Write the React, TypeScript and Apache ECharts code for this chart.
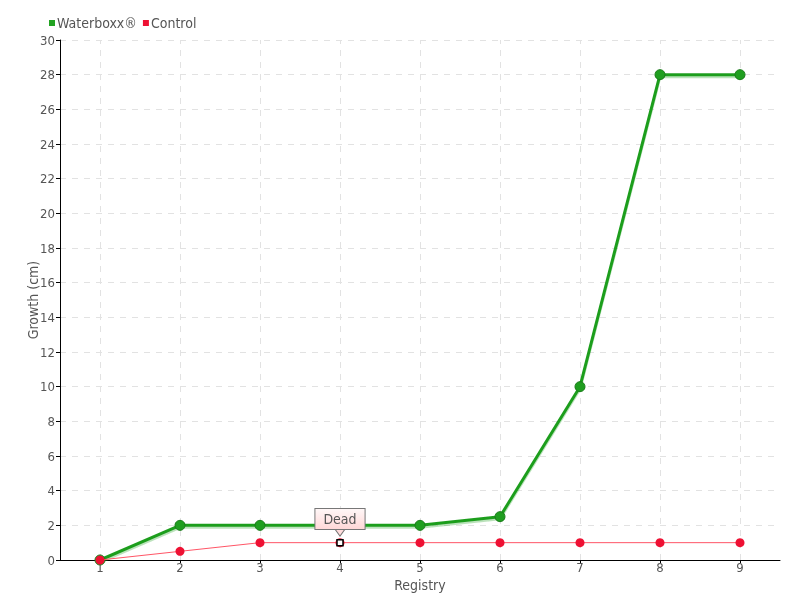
import React, { useEffect, useRef } from "react";
import * as echarts from "echarts";

const categories = ["1", "2", "3", "4", "5", "6", "7", "8", "9"];
const waterboxx = [0, 2, 2, 2, 2, 2.5, 10, 28, 28];
const control = [0, 0.5, 1, 1, 1, 1, 1, 1, 1];
const deadIndex = 3;
const deadLabel = "Dead";

const FONT = "'DejaVu Sans Condensed', 'DejaVu Sans', sans-serif";
const TXT = "#555555";
const GRIDC = "#e2e2e2";

export default function App() {
  const ref = useRef<HTMLDivElement>(null);
  useEffect(() => {
    if (!ref.current) return;
    const chart = echarts.init(ref.current, undefined, { renderer: "svg" });
    chart.setOption({
      animation: false,
      textStyle: { fontFamily: FONT },
      legend: {
        left: 44,
        top: 11,
        itemWidth: 6,
        itemHeight: 6,
        itemGap: 6,
        icon: "rect",
        itemStyle: { borderWidth: 0 },
        textStyle: { color: TXT, fontSize: 14, fontFamily: FONT, padding: [0, 0, 0, -3] },
        data: [
          { name: "Waterboxx®", itemStyle: { color: "#22a322", borderWidth: 0 } },
          { name: "Control", itemStyle: { color: "#ee1133", borderWidth: 0 } },
        ],
      },
      grid: { left: 60, right: 20, top: 40, bottom: 40 },
      xAxis: {
        type: "category",
        data: categories,
        boundaryGap: true,
        name: "Registry",
        nameLocation: "middle",
        nameGap: 18,
        nameMoveOverlap: false,
        nameTextStyle: { color: TXT, fontSize: 14, fontFamily: FONT },
        axisLine: { lineStyle: { color: "#000000", width: 1 } },
        axisTick: { show: true, alignWithLabel: true, length: 3, lineStyle: { color: "#000000" } },
        axisLabel: { color: TXT, fontSize: 13, margin: 1, fontFamily: FONT },
        splitLine: { show: false },
      },
      yAxis: {
        type: "value",
        min: 0,
        max: 30,
        interval: 2,
        name: "Growth (cm)",
        nameLocation: "middle",
        nameGap: 20,
        nameMoveOverlap: false,
        nameRotate: 90,
        nameTextStyle: { color: TXT, fontSize: 14, fontFamily: FONT },
        axisLine: { show: true, lineStyle: { color: "#000000", width: 1 } },
        axisTick: { show: true, length: 4, lineStyle: { color: "#000000" } },
        axisLabel: { color: TXT, fontSize: 13, margin: 5, fontFamily: FONT },
        splitLine: { lineStyle: { color: GRIDC, type: [6, 6], width: 1 } },
      },
      series: [
        {
          name: "Waterboxx®",
          type: "line",
          data: waterboxx,
          symbol: "circle",
          symbolSize: 10,
          lineStyle: {
            color: "#1f9e1f",
            width: 3,
            shadowColor: "rgba(30,160,30,0.3)",
            shadowOffsetY: 2,
            shadowBlur: 1,
          },
          itemStyle: { color: "#1f9e1f", borderColor: "#1a7a1a", borderWidth: 1 },
          markLine: {
            silent: true,
            symbol: "none",
            label: { show: false },
            lineStyle: { color: GRIDC, type: [6, 6], width: 1 },
            emphasis: { disabled: true },
            data: categories.map((c) => ({ xAxis: c })),
            z: 0,
          },
          z: 3,
        },
        {
          name: "Control",
          type: "line",
          data: control,
          symbol: "circle",
          symbolSize: 9,
          lineStyle: { color: "#ff5566", width: 1 },
          itemStyle: { color: "#ee1133", borderWidth: 0 },
          markPoint: {
            silent: true,
            data: [
              {
                coord: [categories[deadIndex], control[deadIndex]],
                symbol: "triangle",
                symbolRotate: 180,
                symbolSize: [10, 7],
                symbolOffset: [0, -10],
                itemStyle: { color: "#ffdcdc", borderColor: "#777777", borderWidth: 1 },
                label: { show: false },
              },
              {
                coord: [categories[deadIndex], control[deadIndex]],
                symbol: "rect",
                symbolSize: 6,
                itemStyle: { color: "#ffffff", borderColor: "#000000", borderWidth: 1.5 },
                label: {
                  show: true,
                  position: "top",
                  distance: 10,
                  formatter: deadLabel,
                  color: TXT,
                  fontFamily: FONT,
                  fontSize: 14,
                  backgroundColor: {
                    type: "linear",
                    x: 0, y: 0, x2: 0, y2: 1,
                    colorStops: [
                      { offset: 0, color: "#fff7f7" },
                      { offset: 1, color: "#ffd8d8" },
                    ],
                  },
                  borderColor: "#777777",
                  borderWidth: 1,
                  padding: [3, 8, 3, 8],
                },
              },
            ],
          },
          z: 4,
        },
      ],
    });
    return () => chart.dispose();
  }, []);
  return (
    <div
      ref={ref}
      style={{ position: "fixed", left: 0, top: 0, width: 800, height: 600 }}
    />
  );
}
